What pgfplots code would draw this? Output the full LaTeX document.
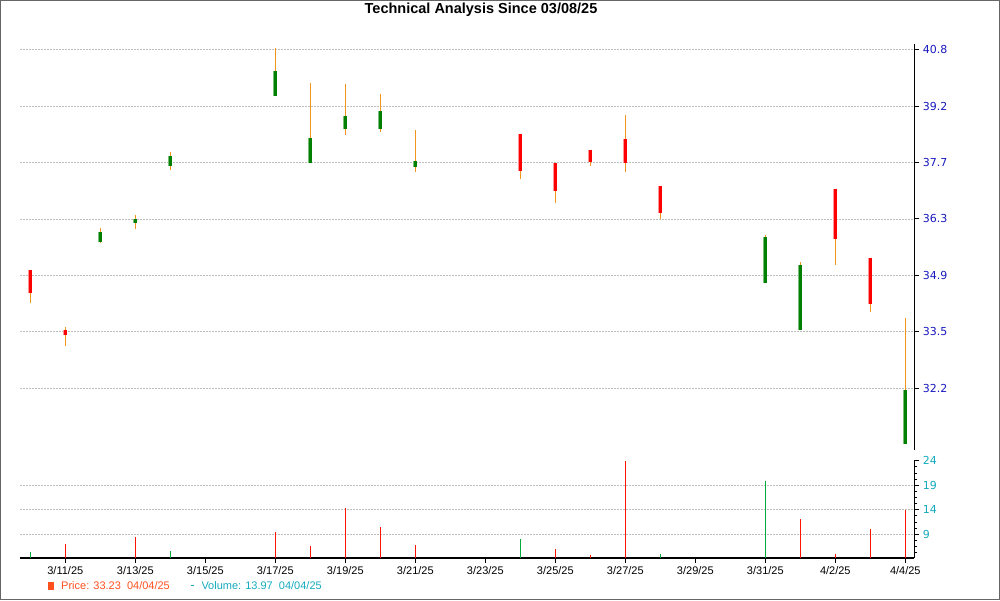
\documentclass[border=0pt]{standalone}
\usepackage{pgfplots}
\pgfplotsset{compat=1.18}
\usepackage{fontspec}
\setmainfont{Liberation Sans}
\newfontfamily\dejavu{DejaVu Sans}
\definecolor{wick}{RGB}{240,150,30}
\definecolor{cgreen}{RGB}{0,128,0}
\definecolor{cgreenl}{RGB}{120,190,120}
\definecolor{cred}{RGB}{255,0,0}
\definecolor{credl}{RGB}{255,150,150}
\definecolor{vgreen}{RGB}{0,170,60}
\definecolor{vred}{RGB}{255,20,0}
\definecolor{pricelab}{RGB}{25,25,190}
\definecolor{vollab}{RGB}{20,170,190}
\definecolor{legprice}{RGB}{255,80,30}
\definecolor{gridc}{RGB}{190,190,190}
\begin{document}
\begin{tikzpicture}[x=1pt,y=1pt]
\draw[gray!80!black, line width=1pt] (0.5,0.5) rectangle (999.5,599.5);
\node[font=\bfseries\fontsize{14.5}{16}\selectfont] at (481,590) {Technical Analysis Since 03/08/25};
% price panel
\begin{axis}[
  at={(20.3pt,150pt)}, anchor=south west, scale only axis,
  width=894pt, height=405.7pt,
  xmin=-0.286, xmax=25.257, ymode=log, ymin=30.865, ymax=40.94,
  axis x line=none, axis y line*=right,
  y axis line style={-, line width=1.5pt, black},
  ytick={32.22,33.513,34.858,36.257,37.712,39.226,40.8},
  yticklabels={32.2,33.5,34.9,36.3,37.7,39.2,40.8},
  ymajorgrids, grid style={gridc, dash pattern=on 2pt off 1pt, line width=0.8pt},
  tick align=outside, major tick length=5pt, tick style={black, line width=1pt},
  yticklabel style={font=\dejavu\fontsize{11}{13}\selectfont, text=pricelab},
  unbounded coords=jump,
]
% wicks (low, high)
\addplot[wick, line width=1.1pt, mark=none] coordinates {
(0,34.20) (0,34.99) (0,nan)
(1,33.19) (1,33.62) (1,nan)
(2,35.65) (2,36.03) (2,nan)
(3,36.00) (3,36.35) (3,nan)
(4,37.52) (4,37.98) (4,nan)
(7,39.49) (7,40.84) (7,nan)
(8,37.69) (8,39.87) (8,nan)
(9,38.44) (9,39.84) (9,nan)
(10,38.52) (10,39.55) (10,nan)
(11,37.47) (11,38.57) (11,nan)
(14,37.28) (14,38.47) (14,nan)
(15,36.67) (15,37.69) (15,nan)
(16,37.62) (16,38.05) (16,nan)
(17,37.47) (17,38.99) (17,nan)
(18,36.24) (18,37.09) (18,nan)
(21,34.66) (21,35.85) (21,nan)
(22,33.56) (22,35.18) (22,nan)
(23,35.12) (23,37.03) (23,nan)
(24,33.97) (24,35.29) (24,nan)
(25,30.99) (25,33.84)
};
% green bodies (open, close)
\pgfplotsset{body/.style={line cap=butt, mark=none}}
\foreach \w/\c in {4.2pt/cgreenl, 2.8pt/cgreen} {
\edef\tmp{\noexpand\addplot[\c, line width=\w, body] coordinates {
(2,35.67) (2,35.92) (2,nan)
(3,36.14) (3,36.24) (3,nan)
(4,37.61) (4,37.89) (4,nan)
(7,39.49) (7,40.20) (7,nan)
(8,37.69) (8,38.37) (8,nan)
(9,38.59) (9,38.94) (9,nan)
(10,38.60) (10,39.08) (10,nan)
(11,37.59) (11,37.74) (11,nan)
(21,34.66) (21,35.79) (21,nan)
(22,33.56) (22,35.10) (22,nan)
(25,30.99) (25,32.19)
};}\tmp
}
% red bodies (open, close)
\foreach \w/\c in {4.2pt/credl, 2.8pt/cred} {
\edef\tmp{\noexpand\addplot[\c, line width=\w, body] coordinates {
(0,34.99) (0,34.44) (0,nan)
(1,33.55) (1,33.43) (1,nan)
(14,38.47) (14,37.50) (14,nan)
(15,37.69) (15,36.98) (15,nan)
(16,38.05) (16,37.71) (16,nan)
(17,38.32) (17,37.69) (17,nan)
(18,37.09) (18,36.40) (18,nan)
(23,37.03) (23,35.74) (23,nan)
(24,35.29) (24,34.17)
};}\tmp
}
\end{axis}
% volume panel
\begin{axis}[
  at={(20.3pt,42.3pt)}, anchor=south west, scale only axis,
  width=894pt, height=97pt,
  xmin=-0.286, xmax=25.257, ymin=4.23, ymax=24,
  axis x line*=bottom, axis y line*=right,
  axis line style={-, line width=1.5pt, black},
  xtick={1,3,...,25},
  xticklabels={3/11/25,3/13/25,3/15/25,3/17/25,3/19/25,3/21/25,3/23/25,3/25/25,3/27/25,3/29/25,3/31/25,4/2/25,4/4/25},
  ytick={9,14,19}, extra y ticks={24}, extra y tick style={grid=none},
  minor ytick={5.25,6.5,7.75,10.25,11.5,12.75,15.25,16.5,17.75,20.25,21.5,22.75},
  ymajorgrids, grid style={gridc, dash pattern=on 2pt off 1pt, line width=0.8pt},
  tick align=outside, major tick length=5pt, minor tick length=3pt,
  tick style={black, line width=1pt},
  /pgf/number format/assume math mode=true,
  yticklabel style={font=\dejavu\fontsize{11}{13}\selectfont, text=vollab},
  xticklabel style={font=\fontsize{11}{13}\selectfont, text=black},
]
\addplot[ycomb, vred, line width=1.2pt, mark=none] coordinates {
(1,6.96) (3,8.39) (7,9.47) (8,6.62) (9,14.30) (10,10.43) (11,6.76)
(15,6.01) (16,4.72) (17,24.05) (22,12.12) (23,4.99) (24,10.08) (25,13.97)
};
\addplot[ycomb, vgreen, line width=1.2pt, mark=none] coordinates {
(0,5.39) (2,4.2) (4,5.60) (14,7.98) (18,4.99) (21,19.80)
};
\end{axis}
% legend
\fill[legprice] (47.5,10.5) rectangle (53.5,18.5);
\node[anchor=west, inner sep=0pt, text=legprice, font=\fontsize{11}{13}\selectfont] at (61,14.3) {Price: 33.23\ \ 04/04/25};
\draw[vollab, line width=1.2pt] (190.5,14.7) -- (194,14.7);
\node[anchor=west, inner sep=0pt, text=vollab, font=\fontsize{11}{13}\selectfont] at (201.3,14.3) {Volume: 13.97\ \ 04/04/25};
\end{tikzpicture}
\end{document}
